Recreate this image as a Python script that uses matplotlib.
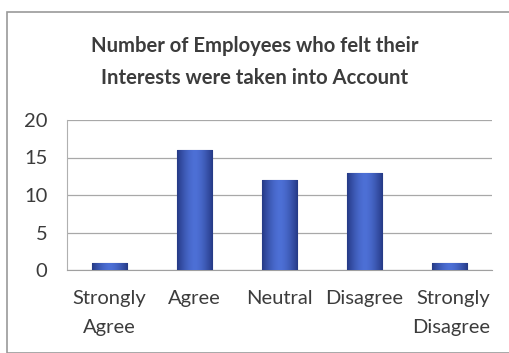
import numpy as np
import matplotlib.pyplot as plt
from matplotlib.patches import Rectangle
from matplotlib.transforms import blended_transform_factory

categories = ["Strongly\nAgree", "Agree", "Neutral", "Disagree", "Strongly\nDisagree"]
counts = [1, 16, 12, 13, 1]
yticks = [0, 5, 10, 15, 20]

plt.rcParams['font.family'] = ['Lato', 'DejaVu Sans']
text_col = '#3c3c3c'

fig = plt.figure(figsize=(5.10, 3.53), dpi=100)
fig.patch.set_facecolor('white')

# outer chart frame
frame = Rectangle((7 / 510, 0), 1.2, (353 - 12) / 353, transform=fig.transFigure,
                  fill=False, edgecolor='#9a9a9a', linewidth=1.2)
fig.patches.append(frame)

ax = fig.add_axes([67 / 510, 1 - 270 / 353, 425 / 510, 150 / 353])
x = np.arange(len(categories))
bars = ax.bar(x, counts, width=0.42, color='#3f5fc0', edgecolor='#2a3c85',
              linewidth=0.8, zorder=3)

# horizontal shading on each bar: darker edges, lighter middle
shade = np.linspace(-1, 1, 64)
shade = 1 - np.abs(shade) ** 1.6
cmap = plt.matplotlib.colors.LinearSegmentedColormap.from_list(
    'barshade', ['#263a86', '#4d70d6'])
for b in bars:
    x0, w, h = b.get_x(), b.get_width(), b.get_height()
    im = ax.imshow(shade[np.newaxis, :], cmap=cmap, aspect='auto',
                   extent=(x0, x0 + w, 0, h), zorder=3.5, interpolation='bilinear')
    im.set_clip_path(b)

ax.set_xlim(-0.5, len(categories) - 0.5)
ax.set_ylim(0, 20)
ax.set_yticks(yticks)
ax.set_xticks(x)
ax.set_xticklabels([])
ax.set_yticklabels([str(t) for t in yticks], fontsize=14.5, color=text_col)
ax.tick_params(axis='x', length=0)
ax.tick_params(axis='y', length=0, pad=14)
ax.grid(axis='y', color='#a8a8a8', linewidth=0.9, zorder=0)
for s in ['top', 'right']:
    ax.spines[s].set_visible(False)
ax.spines['left'].set_color('#b0b0b0')
ax.spines['bottom'].set_color('#a0a0a0')

# category labels under the axis; the last one is pushed left to fit the frame
trans = blended_transform_factory(ax.transData, fig.transFigure)
for i, cat in enumerate(categories):
    if i == len(categories) - 1:
        xi, ha, ma = i + 0.48, 'right', 'right'
    else:
        xi, ha, ma = i, 'center', 'center'
    ax.text(xi, 1 - 290 / 353, cat, transform=trans, ha=ha, va='top',
            multialignment=ma, fontsize=14.5, color=text_col, linespacing=1.85)

fig.text(0.5, 1 - 46 / 353, "Number of Employees who felt their", ha='center', va='center',
         fontsize=14.6, fontweight='bold', color=text_col)
fig.text(0.5, 1 - 78 / 353, "Interests were taken into Account", ha='center', va='center',
         fontsize=14.6, fontweight='bold', color=text_col)

fig.savefig('out.png', dpi=100, facecolor='white')
